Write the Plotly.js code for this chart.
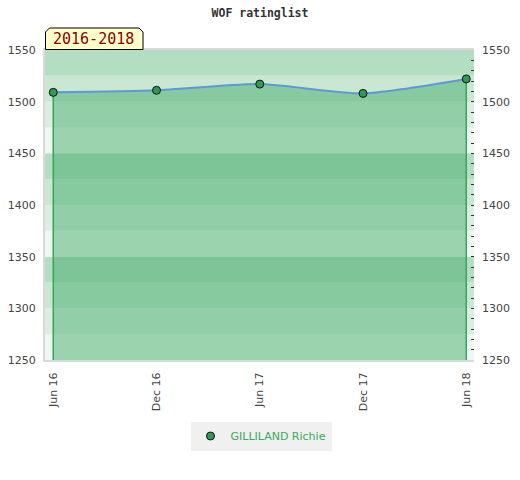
<!DOCTYPE html>
<html>
<head>
<meta charset="utf-8">
<script src="https://cdn.plot.ly/plotly-3.0.1.min.js"></script>
<style>html,body{margin:0;padding:0;background:#fff;}#chart{width:520px;height:480px;}</style>
</head>
<body>
<div id="chart"></div>
<script>
// ---- data ----
var periods = ["Jun 16", "Dec 16", "Jun 17", "Dec 17", "Jun 18"];
var ratings = [1509, 1511, 1517, 1508, 1522];
var playerName = "GILLILAND Richie";
var periodLabel = "2016-2018";
var chartTitle = "WOF ratinglist";
var yRange = [1250, 1550];
var bandStep = 25;
var bandColors = ["#eef7f1", "#dceee3", "#c9e7d3", "#b3dec2"];

// ---- geometry helpers (plot area in pixels) ----
var W = 520, H = 480;
var M = {l: 45, r: 46, t: 50, b: 120};
var PW = W - M.l - M.r, PH = H - M.t - M.b;
function px(x) { return (x - M.l) / PW; }
function py(y) { return (H - M.b - y) / PH; }

var shapes = [];
var nb = Math.round((yRange[1] - yRange[0]) / bandStep);
for (var k = 0; k < nb; k++) {
  shapes.push({
    type: 'rect', xref: 'paper', yref: 'y', layer: 'below',
    x0: 0, x1: 1, y0: yRange[0] + k * bandStep, y1: yRange[0] + (k + 1) * bandStep,
    fillcolor: bandColors[k % 4], line: {width: 0}
  });
}
// label box with chamfered top corners
var bx0 = 45.5, bx1 = 143, by0 = 28, by1 = 49.5, c = 4;
shapes.push({
  type: 'path', xref: 'paper', yref: 'paper', layer: 'above',
  path: 'M' + px(bx0) + ',' + py(by1) + ' L' + px(bx0) + ',' + py(by0 + c) +
        ' L' + px(bx0 + c) + ',' + py(by0) + ' L' + px(bx1 - c) + ',' + py(by0) +
        ' L' + px(bx1) + ',' + py(by0 + c) + ' L' + px(bx1) + ',' + py(by1) + ' Z',
  fillcolor: '#ffffcc', line: {color: '#000', width: 1}
});

var last = periods.length - 1;
var traces = [
  {
    x: periods, y: ratings, type: 'scatter', mode: 'lines',
    fill: 'tozeroy', fillcolor: 'rgba(63,169,100,0.47)',
    line: {color: '#5b9bd5', width: 2, shape: 'spline', smoothing: 0.6},
    showlegend: false, hoverinfo: 'skip'
  },
  {
    x: [periods[0], periods[0]], y: [yRange[0], ratings[0]],
    type: 'scatter', mode: 'lines', line: {color: '#3aa45e', width: 1.5},
    showlegend: false, hoverinfo: 'skip'
  },
  {
    x: [periods[last], periods[last]], y: [yRange[0], ratings[last]],
    type: 'scatter', mode: 'lines', line: {color: '#3aa45e', width: 1.5},
    showlegend: false, hoverinfo: 'skip'
  },
  {
    x: periods, y: ratings, type: 'scatter', mode: 'markers', name: playerName,
    marker: {color: '#2e9a55', size: 8, line: {color: '#111', width: 1}}
  },
  {
    x: periods, y: ratings, type: 'scatter', mode: 'markers', yaxis: 'y2',
    marker: {opacity: 0}, showlegend: false, hoverinfo: 'skip'
  }
];

var tickFont = {family: 'DejaVu Sans', size: 11, color: '#444'};
var layout = {
  width: W, height: H,
  margin: M,
  paper_bgcolor: '#fff', plot_bgcolor: '#fff',
  title: {
    text: chartTitle, x: 0.5, xref: 'container', xanchor: 'center',
    y: 1 - 13 / H, yref: 'container', yanchor: 'middle',
    font: {family: 'DejaVu Sans Mono', size: 11.5, color: '#333', weight: 'bold'}
  },
  xaxis: {
    type: 'category', range: [-0.08, last + 0.075],
    tickangle: -90, tickfont: tickFont, showgrid: false, zeroline: false,
    showline: true, mirror: true, linecolor: '#d9d9d9', linewidth: 2, ticks: '',
    ticklabelstandoff: 6
  },
  yaxis: {
    range: yRange, dtick: 50, tickfont: tickFont, showgrid: false, zeroline: false,
    showline: true, linecolor: '#d9d9d9', linewidth: 2, ticks: '', fixedrange: true,
    ticklabelstandoff: 5
  },
  yaxis2: {
    overlaying: 'y', side: 'right', range: yRange, dtick: 50, tickfont: tickFont,
    showgrid: false, zeroline: false, showline: false,
    ticks: 'inside', ticklen: 3, tickcolor: '#333', tickwidth: 1,
    ticklabelstandoff: 7,
    minor: {dtick: 10, ticks: 'inside', ticklen: 3, tickcolor: '#333', tickwidth: 1, showgrid: false}
  },
  shapes: shapes,
  annotations: [{
    text: periodLabel, xref: 'paper', yref: 'paper',
    x: px((bx0 + bx1) / 2 - 1), y: py(39.5), xanchor: 'center', yanchor: 'middle',
    showarrow: false,
    font: {family: 'DejaVu Sans Mono', size: 15, color: '#8b0000'}
  }],
  legend: {
    orientation: 'h', x: px(261), xanchor: 'center', y: py(436), yanchor: 'middle',
    bgcolor: '#f0f0f0', font: {family: 'DejaVu Sans', size: 11, color: '#3aaa5c'},
    itemwidth: 30
  },
  hovermode: false
};

Plotly.newPlot('chart', traces, layout, {staticPlot: true, displayModeBar: false});
</script>
</body>
</html>
